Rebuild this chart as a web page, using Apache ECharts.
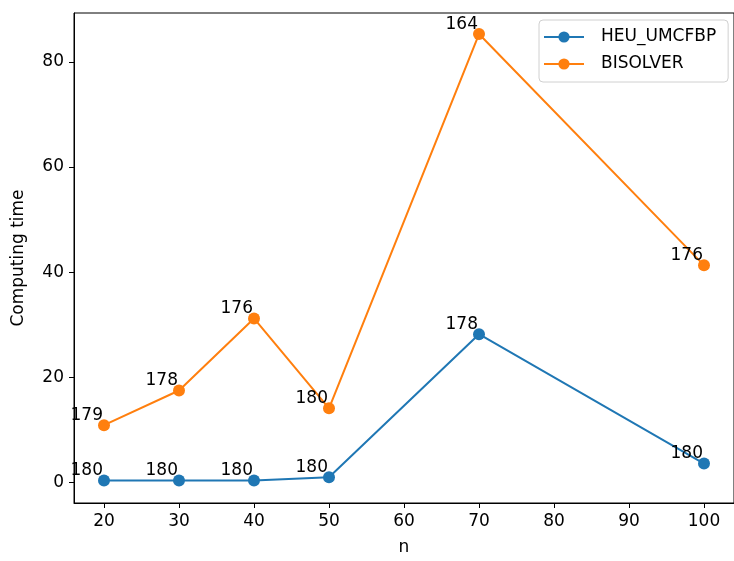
<!DOCTYPE html>
<html>
<head>
<meta charset="utf-8">
<script src="https://cdn.jsdelivr.net/npm/echarts@6/dist/echarts.min.js"></script>
<style>html,body{margin:0;padding:0;background:#fff;}#c{width:734px;height:561px;}</style>
</head>
<body>
<div id="c"></div>
<script>
const nValues = [20, 30, 40, 50, 70, 100];
const heuTime = [0.4, 0.4, 0.4, 1.0, 28.2, 3.6];
const bisTime = [10.9, 17.5, 31.2, 14.1, 85.3, 41.3];
const heuLabels = ['180', '180', '180', '180', '178', '180'];
const bisLabels = ['179', '178', '176', '180', '164', '176'];
const xTicks = [20, 30, 40, 50, 60, 70, 80, 90, 100];
const yTicks = [0, 20, 40, 60, 80];
const seriesNames = ['HEU_UMCFBP', 'BISOLVER'];

const FONT = 'DejaVu Sans';
const FS = 17;
const chart = echarts.init(document.getElementById('c'), null, {renderer: 'canvas'});

function mkSeries(name, vals, labels, color) {
  return {
    name: name,
    type: 'line',
    data: nValues.map((n, i) => [n, vals[i]]),
    symbol: 'circle',
    symbolSize: 12,
    itemStyle: {color: color},
    lineStyle: {color: color, width: 2},
    emphasis: {disabled: true},
    animation: false,
    label: {
      show: true,
      position: ['50%', '50%'],
      align: 'right',
      verticalAlign: 'bottom',
      offset: [-1, -1],
      color: '#000',
      fontFamily: FONT,
      fontSize: FS,
      formatter: p => labels[p.dataIndex]
    }
  };
}

chart.setOption({
  backgroundColor: '#fff',
  animation: false,
  textStyle: {fontFamily: FONT},
  grid: {left: 74, top: 13, width: 667, height: 495, show: true, borderColor: '#000', borderWidth: 1, containLabel: false},
  legend: {
    orient: 'vertical',
    left: 539, top: 20,
    padding: [8, 12, 9, 4],
    itemGap: 9,
    itemWidth: 40,
    itemHeight: 14,
    borderColor: '#d0d0d0',
    borderWidth: 1,
    borderRadius: 4,
    backgroundColor: 'rgba(255,255,255,0.8)',
    textStyle: {fontFamily: FONT, fontSize: FS, lineHeight: 18, color: '#000', padding: [0, 0, 0, 12]},
    data: seriesNames
  },
  xAxis: {
    type: 'value',
    min: 16, max: 104,
    name: 'n',
    nameLocation: 'middle',
    nameGap: 36,
    nameTextStyle: {fontFamily: FONT, fontSize: FS, color: '#000'},
    axisLine: {show: true, onZero: false, lineStyle: {color: '#000', width: 1}},
    axisTick: {show: true, length: 5, lineStyle: {color: '#000'}, customValues: xTicks},
    axisLabel: {color: '#000', fontFamily: FONT, fontSize: FS, margin: 10, customValues: xTicks},
    splitLine: {show: false}
  },
  yAxis: {
    type: 'value',
    min: -3.9, max: 89.3,
    name: 'Computing time',
    nameLocation: 'middle',
    nameGap: 47,
    nameRotate: 90,
    nameTextStyle: {fontFamily: FONT, fontSize: FS, color: '#000'},
    axisLine: {show: true, onZero: false, lineStyle: {color: '#000', width: 1}},
    axisTick: {show: true, length: 5, lineStyle: {color: '#000'}, customValues: yTicks},
    axisLabel: {color: '#000', fontFamily: FONT, fontSize: FS, margin: 10, customValues: yTicks},
    splitLine: {show: false}
  },
  series: [
    mkSeries(seriesNames[0], heuTime, heuLabels, '#1f77b4'),
    mkSeries(seriesNames[1], bisTime, bisLabels, '#ff7f0e')
  ]
});
</script>
</body>
</html>
